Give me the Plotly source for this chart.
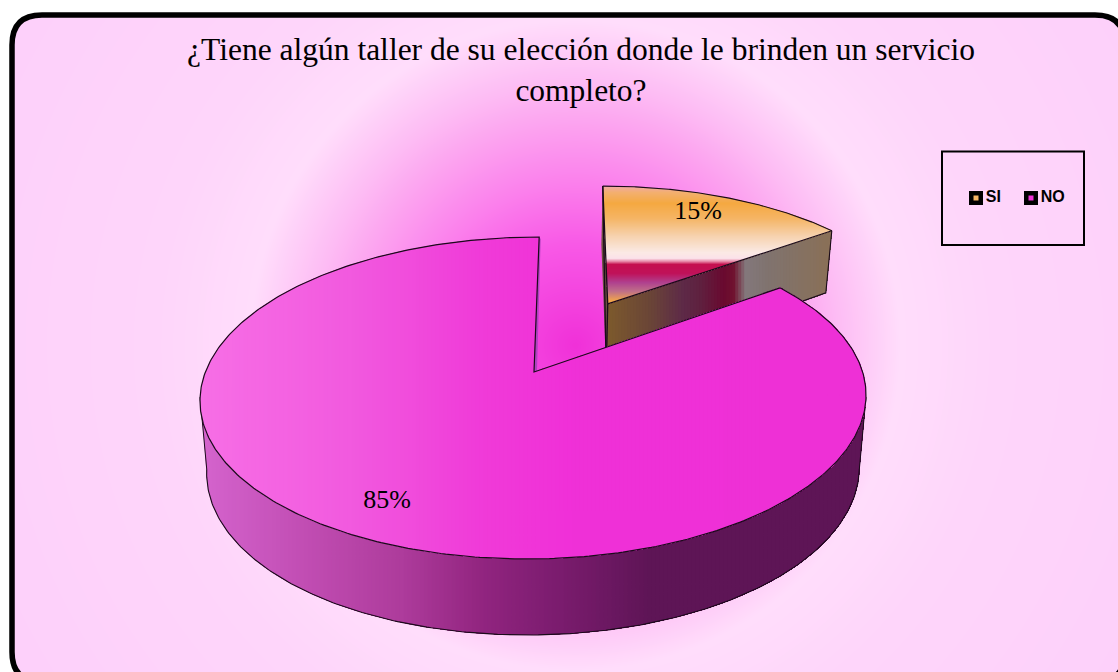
import math
import numpy as np
import plotly.graph_objects as go

# ---- data ----
categories = ["SI", "NO"]
values = [15, 85]
title_text = "¿Tiene algún taller de su elección donde le brinden un servicio<br>completo?"

# ---- view of the tilted pie (pixel axes) ----
W, H = 1118, 672
CX, CY, A, B, P, SKEW = 534, 372, 328.6, 156.8, 0.1615, 6
EXPLODE = {"SI": 0.5235, "NO": 0.0}
SI_SHIFT_X = -1.5


def project(wx, wy):
    d = 1 + P * wy
    return CX + (A * wx + SKEW * wy) / d, CY - B * wy / d


def lower(pt):
    x, y = pt
    dy = y - 398
    return 533 + 0.98 * (x - 533), y + 72 + 0.0416 * dy - 0.000104 * dy * dy


def rim(t0, t1, ox, oy, n=160):
    ts = np.radians(np.linspace(t0, t1, n))
    return [project(ox + math.sin(t), oy + math.cos(t)) for t in ts]


def clip_ge(poly, axis, v):
    out = []
    for i, a in enumerate(poly):
        b = poly[(i + 1) % len(poly)]
        ina, inb = a[axis] >= v, b[axis] >= v
        if ina:
            out.append(a)
        if ina != inb:
            f = (v - a[axis]) / (b[axis] - a[axis])
            out.append((a[0] + f * (b[0] - a[0]), a[1] + f * (b[1] - a[1])))
    return out


def hex2rgb(h):
    return np.array([int(h[i:i + 2], 16) for i in (1, 3, 5)], float)


def ramp(stops, v):
    ps = [s[0] for s in stops]
    cs = np.array([hex2rgb(s[1]) for s in stops])
    return "rgb(%d,%d,%d)" % tuple(np.interp(v, ps, cs[:, k]) for k in range(3))


fig = go.Figure()

# background glow
gx = np.arange(0, W + 4, 4)
gy = np.arange(0, H + 4, 4)
XX, YY = np.meshgrid(gx, gy)
RR = np.hypot(XX - 575, YY - 345)
glow = [[0, "#F030D8"], [100, "#F858E6"], [163, "#FB80EC"], [230, "#FCA8F0"], [263, "#FDBCF4"], [325, "#FFDDFB"],
        [420, "#FED5FA"], [680, "#FDCFFA"]]
mx = glow[-1][0]
fig.add_trace(go.Heatmap(x=gx, y=gy, z=RR, zmin=0, zmax=mx, zsmooth="best", showscale=False, hoverinfo="skip",
                         colorscale=[[s[0] / mx, s[1]] for s in glow]))


def painted(poly, axis, stops, step):
    vals = [p[axis] for p in poly]
    v = min(vals)
    first = True
    while v < max(vals):
        part = clip_ge(poly, axis, v) if not first else poly
        first = False
        if len(part) > 2:
            fig.add_trace(go.Scatter(x=[p[0] for p in part] + [part[0][0]], y=[p[1] for p in part] + [part[0][1]],
                                     mode="lines", fill="toself", fillcolor=ramp(stops, v), line=dict(width=0),
                                     showlegend=False, hoverinfo="skip"))
        v += step


def outline(pts, width=1.1, color="#1a0a1a"):
    fig.add_trace(go.Scatter(x=[p[0] for p in pts], y=[p[1] for p in pts], mode="lines",
                             line=dict(color=color, width=width), showlegend=False, hoverinfo="skip"))


# angles from the values (clockwise from 12 o'clock)
total = sum(values)
sweep = {c: 360 * v / total for c, v in zip(categories, values)}
si0, si1 = 0, sweep["SI"]
no0, no1 = si1, si1 + sweep["NO"]
mid = math.radians((si0 + si1) / 2)
ox, oy = EXPLODE["SI"] * math.sin(mid), EXPLODE["SI"] * math.cos(mid)

# --- SI slice ---
apex = project(ox, oy)
apex = (apex[0] + SI_SHIFT_X, apex[1])
si_rim = [(p[0] + SI_SHIFT_X, p[1]) for p in rim(si0, si1, ox, oy)]
si_top = [apex] + si_rim
corner = si_rim[-1]
north = si_rim[0]
fig.add_trace(go.Scatter(x=[north[0], apex[0], lower(apex)[0], lower(north)[0]],
                         y=[north[1], apex[1], lower(apex)[1], lower(north)[1]], fill="toself",
                         fillcolor="#6b5040", mode="lines", line=dict(width=0), showlegend=False, hoverinfo="skip"))
painted([apex, corner, lower(corner), lower(apex)], 0,
        [(606, "#7D5A2D"), (650, "#6A4538"), (682, "#5E2A48"), (700, "#60203F"), (722, "#6A0A30"), (732, "#70122F"),
         (744, "#84787C"), (765, "#807470"), (826, "#8A7058")], 3)
painted(si_top, 1,
        [(185, "#F2A8B0"), (192, "#F3B070"), (203, "#F5A941"), (218, "#F5B565"), (236, "#F7D3B0"), (252, "#FBEAE5"),
         (258, "#FBE2EA"), (261, "#E88AA8"), (264, "#C5104F"), (273, "#C0125A"), (282, "#B0408F"), (291, "#C07088"),
         (300, "#EFA34E"), (305, "#F5A941")], 1)
outline([north, apex, corner], 1.3)
outline(si_rim, 1.1)
outline([corner, lower(corner), lower(apex)], 1.1)
outline([north, lower(apex)], 1.3)
outline([apex, lower(apex)], 1.3)

# --- NO slice: side wall ---
wall_top = rim(99, 261, 0, 0, 240)
wall_low = [lower(p) for p in wall_top]
painted(wall_top + wall_low[::-1], 0,
        [(200, "#D564CE"), (300, "#C24EB4"), (400, "#AE3C9C"), (480, "#922580"), (560, "#7A1C6E"), (650, "#5E1556"),
         (870, "#5E1556")], 4)
outline(wall_low, 1.1)
outline([wall_top[0], wall_low[0]], 1.0)
outline([wall_top[-1], wall_low[-1]], 1.0)

# --- NO slice: top face ---
no_rim = rim(no0, no1, 0, 0, 420)
no_apex = project(0, 0)
no_top = [no_apex] + no_rim
painted(no_top, 0, [(200, "#F76FE6"), (350, "#F25ADF"), (480, "#F03BD9"), (570, "#F030D8"), (870, "#EE30D6")], 4)
no_end = no_rim[-1]
fig.add_trace(go.Scatter(x=[no_apex[0], no_end[0], no_end[0] + 1.5, no_apex[0] + 3],
                         y=[no_apex[1], no_end[1], no_end[1] + 2, no_apex[1] - 1], fill="toself",
                         fillcolor="#B040C0", mode="lines", line=dict(width=0), showlegend=False, hoverinfo="skip"))
outline(no_rim + [no_apex, no_rim[0]], 1.2)

# --- percent labels ---
fig.add_trace(go.Scatter(x=[698, 387], y=[212, 501], mode="text",
                         text=[f"{values[0]}%", f"{values[1]}%"],
                         textfont=dict(family="Liberation Serif", size=26, color="black"),
                         showlegend=False, hoverinfo="skip"))

# legend keys, placed inside the legend box
LEG_X = [976, 1031]
LEG_Y = [198, 198]
LEG_COLORS = ["#F5B565", "#F030D8"]
fig.add_trace(go.Scatter(x=LEG_X, y=LEG_Y, mode="markers+text", text=categories, textposition="middle right",
                         textfont=dict(family="Liberation Sans", size=16, color="black", weight="bold"),
                         marker=dict(symbol="square", size=14, color="black"), showlegend=False, hoverinfo="skip"))
fig.add_trace(go.Scatter(x=LEG_X, y=LEG_Y, mode="markers",
                         marker=dict(symbol="square", size=5, color=LEG_COLORS), showlegend=False, hoverinfo="skip"))


def rounded(x0, y0, x1, y1, r):
    return (f"M{x0+r},{y0} L{x1-r},{y0} Q{x1},{y0} {x1},{y0+r} L{x1},{y1-r} Q{x1},{y1} {x1-r},{y1} "
            f"L{x0+r},{y1} Q{x0},{y1} {x0},{y1-r} L{x0},{y0+r} Q{x0},{y0} {x0+r},{y0} Z")


FX0, FY0, FX1, FY1, FR = 12, 15, 1125, 682, 30
outer = f"M-5,-5 L-5,{H+5} L{W+5},{H+5} L{W+5},-5 Z "
shapes = [
    dict(type="path", path=outer + rounded(FX0, FY0, FX1, FY1, FR), fillcolor="white", line=dict(width=0), layer="above"),
    dict(type="path", path=rounded(FX0, FY0, FX1, FY1, FR), line=dict(color="black", width=5.5), layer="above"),
    dict(type="rect", x0=942, y0=151.5, x1=1084, y1=245, line=dict(color="black", width=2), layer="above"),
]

fig.update_layout(
    width=W, height=H, margin=dict(l=0, r=0, t=0, b=0), showlegend=False,
    paper_bgcolor="white", plot_bgcolor="white", autosize=False,
    xaxis=dict(range=[0, W], visible=False, fixedrange=True),
    yaxis=dict(range=[H, 0], visible=False, fixedrange=True),
    shapes=shapes,
    title=dict(text=title_text, x=581 / W, xanchor="center", y=1 - 60 / H, yanchor="middle",
               font=dict(family="Liberation Serif", size=31.5, color="black")),
)
fig.write_html("out.html", config=dict(displayModeBar=False),
               post_script="document.documentElement.style.overflow='hidden';document.body.style.margin='0';"
                           "document.body.style.overflow='hidden';")
